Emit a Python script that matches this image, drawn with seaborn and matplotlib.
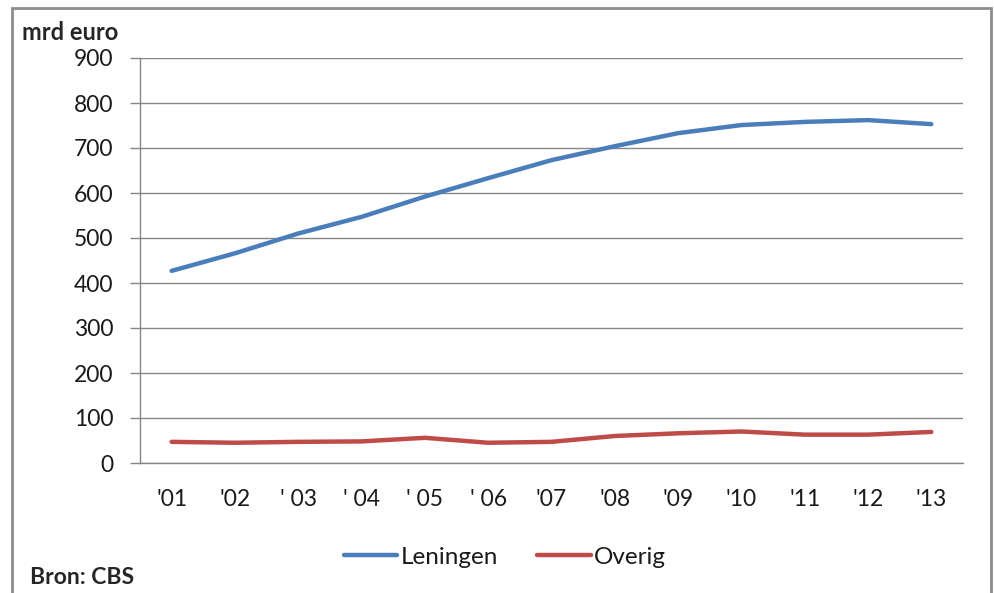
import matplotlib
matplotlib.use("Agg")
import matplotlib.pyplot as plt
from matplotlib.patches import Rectangle
from matplotlib.lines import Line2D
import pandas as pd
import seaborn as sns

# data
jaren = ["'01", "'02", "' 03", "' 04", "' 05", "' 06", "'07", "'08", "'09", "'10", "'11", "'12", "'13"]
leningen = [427, 466, 510, 547, 592, 633, 673, 704, 733, 751, 758, 762, 753]
overig = [47, 45, 47, 48, 56, 45, 47, 60, 66, 70, 63, 63, 69]

df = pd.DataFrame({
    "jaar": jaren * 2,
    "waarde": leningen + overig,
    "reeks": ["Leningen"] * len(jaren) + ["Overig"] * len(jaren),
})
df["pos"] = list(range(len(jaren))) * 2

sns.set_style("white")
plt.rcParams["font.family"] = ["Lato", "DejaVu Sans"]

fig = plt.figure(figsize=(9.94, 5.93), dpi=100)
ax = fig.add_axes([140 / 994, 1 - 463 / 593, (963 - 140) / 994, (463 - 58) / 593])

sns.lineplot(data=df, x="pos", y="waarde", hue="reeks",
             palette={"Leningen": "#4A7EBB", "Overig": "#BE4B48"},
             linewidth=3.2, ax=ax, legend=False, sort=False)

# axes
ax.set_xlim(-0.5, len(jaren) - 0.5)
ax.set_ylim(0, 900)
ax.set_yticks(range(0, 901, 100))
ax.set_xticks(range(len(jaren)))
ax.set_xticklabels(jaren)
ax.set_xticks([i - 0.5 for i in range(len(jaren) + 1)], minor=True)
ax.tick_params(axis="x", which="major", length=0, pad=19, labelsize=16.5, colors="#1a1a1a")
ax.tick_params(axis="x", which="minor", length=7, width=1, color="#868686")
ax.tick_params(axis="y", length=7, width=1, color="#868686", pad=12, labelsize=16.5, labelcolor="#1a1a1a", left=True)
ax.set_xlabel("")
ax.set_ylabel("")

ax.grid(axis="y", color="#868686", linewidth=1)
ax.set_axisbelow(True)
for s in ["top", "right"]:
    ax.spines[s].set_visible(False)
for s in ["left", "bottom"]:
    ax.spines[s].set_color("#868686")
    ax.spines[s].set_linewidth(1)

# legend at the bottom
handles = [Line2D([], [], color="#4A7EBB", lw=3.2), Line2D([], [], color="#BE4B48", lw=3.2)]
fig.legend(handles, ["Leningen", "Overig"], loc="center", bbox_to_anchor=(0.508, 0.06),
           ncol=2, frameon=False, fontsize=17.5, handlelength=2.2, handletextpad=0.15,
           columnspacing=1.6, labelcolor="#1a1a1a")

# texts
fig.text(22 / 994, 1 - 33 / 593, "mrd euro", fontsize=17, fontweight="bold", va="center", ha="left")
fig.text(30 / 994, 1 - 578 / 593, "Bron: CBS", fontsize=16.5, fontweight="bold", va="center", ha="left")

# outer frame
fig.patches.append(Rectangle((12 / 994, -0.05), (991 - 12) / 994, 1.05 - 8 / 593,
                             transform=fig.transFigure, fill=False, edgecolor="#8c8c8c", linewidth=2))

fig.savefig("out.png", dpi=100, facecolor="white")
